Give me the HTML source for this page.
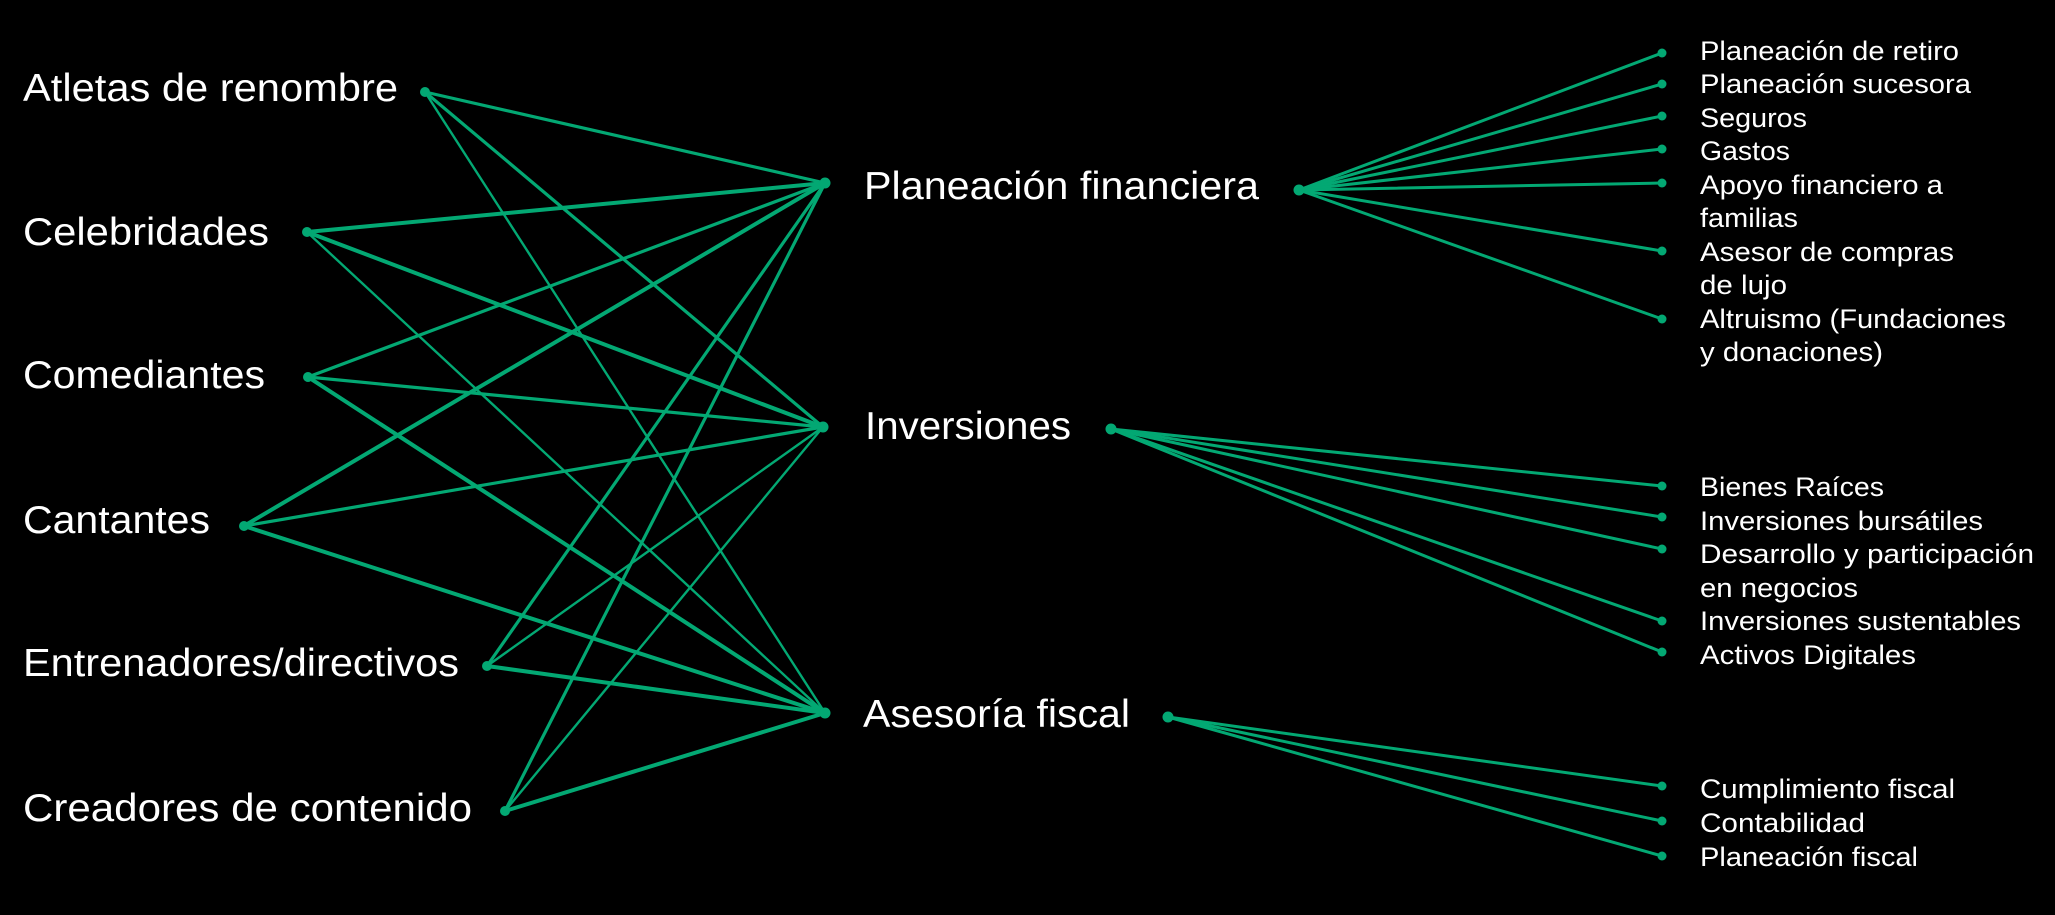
<!DOCTYPE html>
<html>
<head>
<meta charset="utf-8">
<style>
  html, body { margin: 0; padding: 0; background: #000; }
  body { width: 2055px; height: 915px; overflow: hidden; }
  svg { display: block; }
  text { font-family: "Liberation Sans", "DejaVu Sans", sans-serif; fill: #ffffff; }
  .big { font-size: 39px; }
  .sm { font-size: 27px; }
</style>
</head>
<body>
<svg width="2055" height="915" viewBox="0 0 2055 915" xmlns="http://www.w3.org/2000/svg">
  <rect width="2055" height="915" fill="#000"/>
  <g stroke="#03a873" stroke-linecap="round" fill="none">
    <!-- Atletas -->
    <line x1="425" y1="92" x2="825" y2="183" stroke-width="3.2"/>
    <line x1="425" y1="92" x2="823" y2="427" stroke-width="3.2"/>
    <line x1="425" y1="92" x2="825" y2="713" stroke-width="2.4"/>
    <!-- Celebridades -->
    <line x1="307" y1="232" x2="825" y2="183" stroke-width="4"/>
    <line x1="307" y1="232" x2="823" y2="427" stroke-width="4"/>
    <line x1="307" y1="232" x2="825" y2="713" stroke-width="2.4"/>
    <!-- Comediantes -->
    <line x1="308" y1="377" x2="825" y2="183" stroke-width="3.2"/>
    <line x1="308" y1="377" x2="823" y2="427" stroke-width="3.2"/>
    <line x1="308" y1="377" x2="825" y2="713" stroke-width="4"/>
    <!-- Cantantes -->
    <line x1="244" y1="526" x2="825" y2="183" stroke-width="4"/>
    <line x1="244" y1="526" x2="823" y2="427" stroke-width="3.2"/>
    <line x1="244" y1="526" x2="825" y2="713" stroke-width="4"/>
    <!-- Entrenadores -->
    <line x1="487" y1="666" x2="825" y2="183" stroke-width="3.2"/>
    <line x1="487" y1="666" x2="823" y2="427" stroke-width="2.4"/>
    <line x1="487" y1="666" x2="825" y2="713" stroke-width="4"/>
    <!-- Creadores -->
    <line x1="505" y1="811" x2="825" y2="183" stroke-width="3.2"/>
    <line x1="505" y1="811" x2="823" y2="427" stroke-width="2.4"/>
    <line x1="505" y1="811" x2="825" y2="713" stroke-width="4"/>

    <!-- Planeación financiera fan -->
    <line x1="1299" y1="190" x2="1662" y2="53" stroke-width="3"/>
    <line x1="1299" y1="190" x2="1662" y2="84" stroke-width="3"/>
    <line x1="1299" y1="190" x2="1662" y2="116" stroke-width="3"/>
    <line x1="1299" y1="190" x2="1662" y2="149" stroke-width="3"/>
    <line x1="1299" y1="190" x2="1662" y2="183" stroke-width="3"/>
    <line x1="1299" y1="190" x2="1662" y2="251" stroke-width="3"/>
    <line x1="1299" y1="190" x2="1662" y2="319" stroke-width="3"/>
    <!-- Inversiones fan -->
    <line x1="1111" y1="429" x2="1662" y2="486" stroke-width="3"/>
    <line x1="1111" y1="429" x2="1662" y2="517" stroke-width="3"/>
    <line x1="1111" y1="429" x2="1662" y2="549" stroke-width="3"/>
    <line x1="1111" y1="429" x2="1662" y2="621" stroke-width="3"/>
    <line x1="1111" y1="429" x2="1662" y2="652" stroke-width="3"/>
    <!-- Asesoría fan -->
    <line x1="1168" y1="717" x2="1662" y2="786" stroke-width="3"/>
    <line x1="1168" y1="717" x2="1662" y2="821" stroke-width="3"/>
    <line x1="1168" y1="717" x2="1662" y2="856" stroke-width="3"/>
  </g>

  <g fill="#03a873">
    <circle cx="425" cy="92" r="5"/>
    <circle cx="307" cy="232" r="5"/>
    <circle cx="308" cy="377" r="5"/>
    <circle cx="244" cy="526" r="5"/>
    <circle cx="487" cy="666" r="5"/>
    <circle cx="505" cy="811" r="5"/>
    <circle cx="825" cy="183" r="5.5"/>
    <circle cx="823" cy="427" r="5.5"/>
    <circle cx="825" cy="713" r="5.5"/>
    <circle cx="1299" cy="190" r="5.5"/>
    <circle cx="1111" cy="429" r="5.5"/>
    <circle cx="1168" cy="717" r="5.5"/>
    <circle cx="1662" cy="53" r="4.5"/>
    <circle cx="1662" cy="84" r="4.5"/>
    <circle cx="1662" cy="116" r="4.5"/>
    <circle cx="1662" cy="149" r="4.5"/>
    <circle cx="1662" cy="183" r="4.5"/>
    <circle cx="1662" cy="251" r="4.5"/>
    <circle cx="1662" cy="319" r="4.5"/>
    <circle cx="1662" cy="486" r="4.5"/>
    <circle cx="1662" cy="517" r="4.5"/>
    <circle cx="1662" cy="549" r="4.5"/>
    <circle cx="1662" cy="621" r="4.5"/>
    <circle cx="1662" cy="652" r="4.5"/>
    <circle cx="1662" cy="786" r="4.5"/>
    <circle cx="1662" cy="821" r="4.5"/>
    <circle cx="1662" cy="856" r="4.5"/>
  </g>

  <!-- Left labels -->
  <text class="big" x="23" y="101" textLength="375" lengthAdjust="spacingAndGlyphs">Atletas de renombre</text>
  <text class="big" x="23" y="245" textLength="246" lengthAdjust="spacingAndGlyphs">Celebridades</text>
  <text class="big" x="23" y="388" textLength="242" lengthAdjust="spacingAndGlyphs">Comediantes</text>
  <text class="big" x="23" y="533" textLength="187" lengthAdjust="spacingAndGlyphs">Cantantes</text>
  <text class="big" x="23" y="676" textLength="436" lengthAdjust="spacingAndGlyphs">Entrenadores/directivos</text>
  <text class="big" x="23" y="821" textLength="449" lengthAdjust="spacingAndGlyphs">Creadores de contenido</text>

  <!-- Hubs -->
  <text class="big" x="864" y="199" textLength="395" lengthAdjust="spacingAndGlyphs">Planeación financiera</text>
  <text class="big" x="865" y="439" textLength="206" lengthAdjust="spacingAndGlyphs">Inversiones</text>
  <text class="big" x="863" y="727" textLength="267" lengthAdjust="spacingAndGlyphs">Asesoría fiscal</text>

  <!-- Right items: Planeación -->
  <text class="sm" x="1700" y="60" textLength="259" lengthAdjust="spacingAndGlyphs">Planeación de retiro</text>
  <text class="sm" x="1700" y="93" textLength="271" lengthAdjust="spacingAndGlyphs">Planeación sucesora</text>
  <text class="sm" x="1700" y="127" textLength="107" lengthAdjust="spacingAndGlyphs">Seguros</text>
  <text class="sm" x="1700" y="160" textLength="90" lengthAdjust="spacingAndGlyphs">Gastos</text>
  <text class="sm" x="1700" y="194" textLength="243" lengthAdjust="spacingAndGlyphs">Apoyo financiero a</text>
  <text class="sm" x="1700" y="227" textLength="98" lengthAdjust="spacingAndGlyphs">familias</text>
  <text class="sm" x="1700" y="261" textLength="254" lengthAdjust="spacingAndGlyphs">Asesor de compras</text>
  <text class="sm" x="1700" y="294" textLength="87" lengthAdjust="spacingAndGlyphs">de lujo</text>
  <text class="sm" x="1700" y="328" textLength="306" lengthAdjust="spacingAndGlyphs">Altruismo (Fundaciones</text>
  <text class="sm" x="1700" y="361" textLength="183" lengthAdjust="spacingAndGlyphs">y donaciones)</text>

  <!-- Right items: Inversiones -->
  <text class="sm" x="1700" y="496" textLength="184" lengthAdjust="spacingAndGlyphs">Bienes Raíces</text>
  <text class="sm" x="1700" y="530" textLength="283" lengthAdjust="spacingAndGlyphs">Inversiones bursátiles</text>
  <text class="sm" x="1700" y="563" textLength="334" lengthAdjust="spacingAndGlyphs">Desarrollo y participación</text>
  <text class="sm" x="1700" y="597" textLength="158" lengthAdjust="spacingAndGlyphs">en negocios</text>
  <text class="sm" x="1700" y="630" textLength="321" lengthAdjust="spacingAndGlyphs">Inversiones sustentables</text>
  <text class="sm" x="1700" y="664" textLength="216" lengthAdjust="spacingAndGlyphs">Activos Digitales</text>

  <!-- Right items: Asesoría -->
  <text class="sm" x="1700" y="798" textLength="255" lengthAdjust="spacingAndGlyphs">Cumplimiento fiscal</text>
  <text class="sm" x="1700" y="832" textLength="165" lengthAdjust="spacingAndGlyphs">Contabilidad</text>
  <text class="sm" x="1700" y="866" textLength="218" lengthAdjust="spacingAndGlyphs">Planeación fiscal</text>
</svg>
</body>
</html>
